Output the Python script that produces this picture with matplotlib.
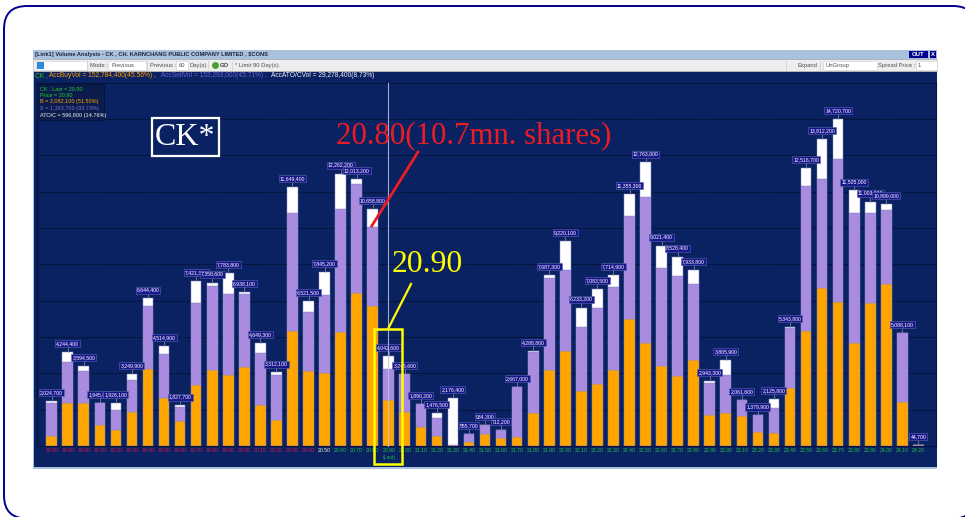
import matplotlib
matplotlib.use("Agg")
import matplotlib.pyplot as plt
from matplotlib.patches import Rectangle, FancyBboxPatch

plt.rcParams['font.family'] = ['Liberation Sans', 'DejaVu Sans']

prices = ["18.80","18.90","19.00","19.10","19.20","19.30","19.40","19.50","19.60","19.70","19.80",
          "19.90","20.00","20.10","20.20","20.30","20.40","20.50","20.60","20.70","20.80","20.90",
          "21.00","21.10","21.20","21.30","21.40","21.50","21.60","21.70","21.80","21.90","22.00",
          "22.10","22.20","22.30","22.40","22.50","22.60","22.70","22.80","22.90","23.00","23.10",
          "23.20","23.30","23.40","23.50","23.60","23.70","23.80","23.90","24.00","24.10","24.20"]
total_vol = [2024700,4244400,3594500,1945800,1926100,3249900,6644400,4514900,1827700,7421300,7358600,
             7783800,6938100,4649300,3312100,11649400,6521500,7845200,12262200,12013200,10658800,4042600,
             3245600,1890200,1476500,2176400,555700,934300,712200,2667000,4288800,7687300,9220100,
             6233200,7083500,7714900,11355300,12763000,9021400,8528400,7933800,2943300,3865900,2061600,
             1379900,2125800,5343800,12516700,13812200,14720700,11505000,11003900,10899000,5088100,44700]
buy_vol = [450000,1922000,1949000,945000,707000,1517000,3480000,2174000,1139000,2760000,3421000,
           3183000,3543000,1859000,1184000,5190000,3376000,3273000,5145000,6887000,6316000,2082100,
           1517000,842000,437000,45000,167000,554000,374000,405000,1486000,3421000,4290000,
           2462000,2805000,3435000,5703000,4637000,3615000,3165000,3885000,1409000,1472000,1364000,
           630000,572000,2611000,5190000,7113000,6469000,4623000,6424000,7306000,1981000,44700]
sell_vol = [1499000,1873000,1427000,1000800,900000,1454000,2823000,1981000,603000,3664000,3795000,
            3673000,3300000,2341000,1999000,5298000,2669000,3538000,5523000,4893000,3543000,1363700,
            1728600,1048200,837000,0,388700,378000,338200,2251000,2733000,4141000,3646000,
            2881000,3408000,3709000,4650000,6586000,4412000,4488000,3421000,1414000,1738000,697600,
            749900,1125000,2715000,6514000,4893000,6437000,5879000,4079000,3318000,3107100,0]
ato_vol = [t - b - s for t, b, s in zip(total_vol, buy_vol, sell_vol)]
last_price = "20.90"
neutral = "20.50"

W, H = 965, 517
NAVY = "#0a2262"
fig = plt.figure(figsize=(W/100, H/100), dpi=100, facecolor="white")

bg = fig.add_axes([0, 0, 1, 1], zorder=0)
bg.set_xlim(0, W); bg.set_ylim(H, 0); bg.axis("off")
bg.add_patch(FancyBboxPatch((4, 6), 972, 512.5, boxstyle="round,pad=0,rounding_size=23",
                            fc="white", ec="#00008c", lw=1.4))
# window chrome
bg.add_patch(Rectangle((32.5, 50), 904.5, 419, fc="#a9c1dd", ec="none"))
bg.add_patch(Rectangle((34, 50), 902.5, 417, fc=NAVY, ec="none"))
bg.add_patch(Rectangle((32.5, 50), 904.5, 9, fc="#a9c1dd", ec="none"))
bg.add_patch(Rectangle((33, 59), 904, 12, fc="#eeeeee", ec="#c8c8c8", lw=0.5))
bg.add_patch(Rectangle((909, 50.5), 19, 7.5, fc="#000090", ec="none"))
bg.add_patch(Rectangle((929.5, 50.5), 6, 7.5, fc="#000090", ec="none"))
bg.text(918.5, 54.3, "OUT", color="white", fontsize=4.3, ha="center", va="center", weight="bold")
bg.text(932.5, 54.3, "X", color="white", fontsize=4.3, ha="center", va="center", weight="bold")
bg.text(35, 54.5, "[Link1] Volume Analysis - CK , CH. KARNCHANG PUBLIC COMPANY LIMITED , $CONS",
        color="#202040", fontsize=4.05, va="center", weight="bold")
bg.add_patch(Rectangle((36, 60.5), 51, 9.5, fc="white", ec="#d0d0d0", lw=0.4))
bg.add_patch(Rectangle((37, 61.5), 7, 7, fc="#2a8ce0", ec="none"))
for x0, w0 in [(108, 38), (176, 12), (823, 54), (916, 21)]:
    bg.add_patch(Rectangle((x0, 60.5), w0, 9.5, fc="white", ec="#d0d0d0", lw=0.4))
bar_texts = [(90, "Mode :"), (111, "Previous"), (150, "Previous :"), (178.5, "60"), (189, "Day(s)"),
             (235, "* Limit 90 Day(s)."), (798, "Expand"), (825, "UnGroup"),
             (878, "Spread Price :"), (918, "1")]
for x0, s in bar_texts:
    bg.text(x0, 65.3, s, color="#505050", fontsize=4.2, va="center")
bg.text(220, 65.3, "GO", color="#404040", fontsize=4.2, va="center", weight="bold")
bg.plot([214.5], [65], marker="o", ms=5, color="#4aa02c", mec="none")
for x0 in (87, 147, 208, 232, 786, 820):
    bg.plot([x0, x0], [60.5, 70], color="#cccccc", lw=0.5)
status = [(35, "CK ,", "#20d020"), (49, "AccBuyVol = 152,784,400(45.56%) ,", "#ff9c00"),
          (161, "AccSellVol = 153,293,000(45.71%) ,", "#6a60d0"),
          (271, "AccATO/CVol = 29,278,400(8.73%)", "#f0f0f0")]
for x0, s, c in status:
    bg.text(x0, 75.5, s, color=c, fontsize=4.75, va="center")

# chart
PL, PR, PT, PB = 37, 936, 83, 446
UNIT = 45016.0
ax = fig.add_axes([PL/W, 1-PB/H, (PR-PL)/W, (PB-PT)/H], zorder=2)
ax.set_facecolor(NAVY)
ax.set_xlim((PL-51.7)/16.05, (PR-51.7)/16.05)
ax.set_ylim(0, (PB-PT)*UNIT)
for s in ax.spines.values():
    s.set_color("#06133c"); s.set_linewidth(0.8)
top = max(total_vol)
ax.set_yticks([top*i/9 for i in range(1, 10)])
ax.set_yticklabels([])
ax.tick_params(axis="y", length=0)
ax.grid(axis="y", color="#04102e", lw=0.8, ls=(0, (1.5, 0.8)))
ax.set_axisbelow(True)

xs = list(range(len(prices)))
edge = "#8f88c8"
kw = dict(width=0.665, edgecolor=edge, linewidth=0.35)
ax.bar(xs, buy_vol, color="#ffa500", **kw)
ax.bar(xs, sell_vol, bottom=buy_vol, color="#a98cdf", **kw)
ax.bar(xs, ato_vol, bottom=[b+s for b, s in zip(buy_vol, sell_vol)], color="white", **kw)

ax.set_xticks(xs)
ax.set_xticklabels([])
ax.tick_params(axis="x", length=0)

for x, p, t in zip(xs, prices, total_vol):
    ax.plot([x, x], [t, t + 5*UNIT], color="#9090a8", lw=0.5, zorder=4)
    ax.annotate(f"{t:,}", (x, t), xytext=(0, 6), textcoords="offset points",
                ha="center", va="center", color="white", fontsize=3.7, zorder=5,
                bbox=dict(boxstyle="square,pad=0.2", fc="#17178a", ec="#5a68b0", lw=0.4))
    pv = float(p)
    col = "#d01a50" if pv < float(neutral) else ("#f0f0d0" if p == neutral else "#20c040")
    ax.annotate(p, (x, 0), xytext=(0, -3.6), textcoords="offset points", ha="center", va="center",
                color=col, fontsize=3.7, annotation_clip=False)
    if p == last_price:
        ax.annotate("(Last)", (x, 0), xytext=(0, -8.5), textcoords="offset points", ha="center",
                    va="center", color="#20c040", fontsize=3.7, annotation_clip=False)

# overlay
fg = fig.add_axes([0, 0, 1, 1], zorder=3)
fg.set_xlim(0, W); fg.set_ylim(H, 0); fg.axis("off"); fg.patch.set_alpha(0)
fg.plot([388.3, 388.3], [83, 446], color="#c0c4d8", lw=0.8, alpha=0.85)
fg.add_patch(Rectangle((37, 84), 67, 36, fc="#0b1c4c", ec="#06133c", lw=0.6))
legend = [("CK , Last = 20.90", "#20d020"), ("Price = 20.90", "#20d020"),
          ("B = 2,082,100 (51.50%)", "#ffa500"), ("S = 1,363,700 (33.73%)", "#7a70d8"),
          ("ATO/C = 596,800 (14.76%)", "#f0f0f0")]
for i, (s, c) in enumerate(legend):
    fg.text(39.5, 88.4 + i*6.67, s, color=c, fontsize=3.95, va="center")

fg.add_patch(Rectangle((151.5, 117.5), 67, 38, fc=NAVY, ec="white", lw=1.6))
fg.text(185, 137.5, "CK*", color="white", fontsize=23, family="Liberation Serif", ha="center", va="center")
fg.text(336, 136, "20.80(10.7mn. shares)", color="#ed1c24", fontsize=22.2, family="Liberation Serif", va="center")
fg.plot([371.7, 418], [226, 152], color="#ed1c24", lw=2)
fg.text(392, 264, "20.90", color="#ffff00", fontsize=22.8, family="Liberation Serif", va="center")
fg.plot([388, 411], [329, 284], color="#ffff00", lw=1.6)
fg.add_patch(Rectangle((373.5, 328.5), 28, 135, fc="none", ec="#ffff00", lw=1.8))

fig.savefig("out.png", dpi=100, facecolor="white")
